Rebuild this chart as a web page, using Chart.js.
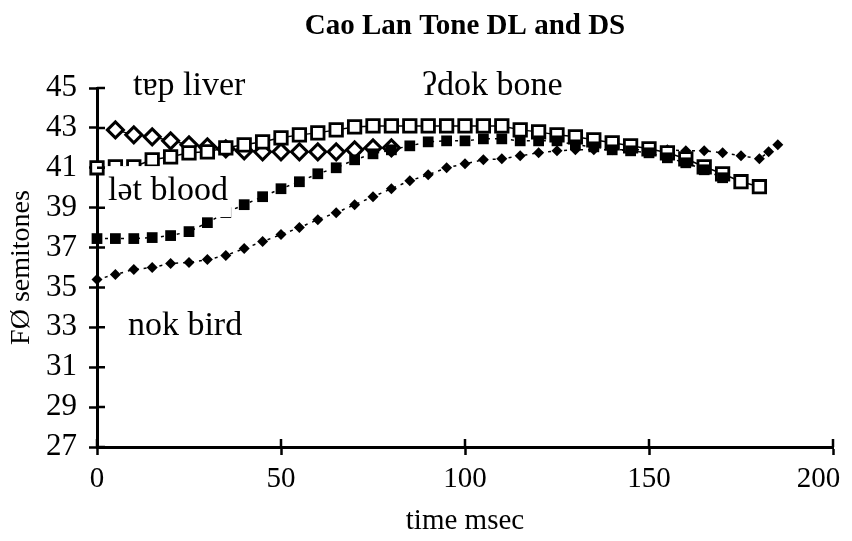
<!DOCTYPE html>
<html>
<head>
<meta charset="utf-8">
<title>Cao Lan Tone DL and DS</title>
<script src="https://cdn.jsdelivr.net/npm/chart.js@4.4.0/dist/chart.umd.min.js"></script>
<style>
  html, body { margin: 0; padding: 0; background: #fff; }
  #wrap { width: 852px; height: 541px; }
</style>
</head>
<body>
<div id="wrap"><canvas id="toneChart" width="852" height="541"></canvas></div>
<script>
// F0 contours (semitones) against time (msec)
const chartTitle = 'Cao Lan Tone DL and DS';

const liverTimes = [5, 10, 15, 20, 25, 30, 35, 40, 45, 50, 55, 60, 65, 70, 75, 80];
const liverF0 = [42.9, 42.65, 42.55, 42.35, 42.15, 42.05, 41.95, 41.85, 41.8, 41.8, 41.8, 41.8, 41.8, 41.9, 42.0, 42.0];

const boneTimes = [0, 5, 10, 15, 20, 25, 30, 35, 40, 45, 50, 55, 60, 65, 70, 75, 80, 85, 90,
  95, 100, 105, 110, 115, 120, 125, 130, 135, 140, 145, 150, 155, 160, 165, 170, 175, 180];
const boneF0 = [41.0, 41.05, 41.05, 41.4, 41.55, 41.75, 41.8, 42.0, 42.15, 42.3, 42.5, 42.65, 42.75, 42.9, 43.05, 43.1, 43.1, 43.1, 43.1,
  43.1, 43.1, 43.1, 43.1, 42.9, 42.8, 42.65, 42.55, 42.4, 42.25, 42.1, 41.95, 41.75, 41.45, 41.05, 40.7, 40.3, 40.05];

const bloodTimes = [0, 5, 10, 15, 20, 25, 30, 35, 40, 45, 50, 55, 60, 65, 70, 75, 80, 85,
  90, 95, 100, 105, 110, 115, 120, 125, 130, 135, 140, 145, 150, 155, 160, 165, 170];
const bloodF0 = [37.45, 37.45, 37.45, 37.5, 37.6, 37.8, 38.25, 38.75, 39.15, 39.55, 39.95, 40.3, 40.7, 41.0, 41.4, 41.7, 41.9, 42.1,
  42.3, 42.35, 42.35, 42.45, 42.45, 42.35, 42.35, 42.35, 42.15, 42.05, 41.9, 41.85, 41.75, 41.5, 41.25, 40.9, 40.5];

const birdTimes = [0, 5, 10, 15, 20, 25, 30, 35, 40, 45, 50, 55, 60, 65, 70, 75, 80, 85, 90,
  95, 100, 105, 110, 115, 120, 125, 130, 135, 140, 145, 150, 155, 160, 165, 170, 175, 180, 182.5, 185];
const birdF0 = [35.4, 35.65, 35.9, 36.0, 36.2, 36.25, 36.4, 36.6, 36.95, 37.3, 37.65, 38.0, 38.4, 38.75, 39.15, 39.55, 39.95, 40.35, 40.65,
  41.0, 41.2, 41.4, 41.45, 41.6, 41.75, 41.85, 41.9, 41.9, 41.9, 41.9, 41.9, 41.9, 41.85, 41.85, 41.75, 41.6, 41.45, 41.8, 42.15];

// word labels written next to the curves (anchor = left end of baseline, in data units)
const curveLabels = [
  { text: 't\u0250p liver', t: 9.8, f0: 44.65 },
  { text: '\u0294dok bone', t: 88.3, f0: 44.65 },
  { text: 'l\u0259t blood', t: 3.0, f0: 39.38 },
  { text: 'nok bird', t: 8.4, f0: 32.6 }
];

const serif = '"Liberation Serif", "Times New Roman", "DejaVu Serif", serif';

function toPoints(times, values) {
  return times.map((t, i) => ({ x: t, y: values[i] }));
}

const figureText = {
  id: 'figureText',
  afterDatasetsDraw(chart) {
    const { ctx, chartArea, scales } = chart;
    const xs = scales.x, ys = scales.y;
    ctx.save();

    ctx.font = '34px ' + serif;
    ctx.textAlign = 'left';
    ctx.textBaseline = 'alphabetic';
    curveLabels.forEach(l => {
      const px = xs.getPixelForValue(l.t);
      const py = ys.getPixelForValue(l.f0);
      const w = ctx.measureText(l.text).width;
      ctx.fillStyle = '#fff';
      ctx.fillRect(px - 3, py - 34, w + 6, 51);
      ctx.fillStyle = '#000';
      ctx.fillText(l.text, px, py);
    });

    ctx.font = 'bold 29px ' + serif;
    ctx.textAlign = 'center';
    ctx.textBaseline = 'middle';
    ctx.fillText(chartTitle, (chartArea.left + chartArea.right) / 2, 27);

    // tick marks cross the axes, so draw the inner halves too
    ctx.strokeStyle = '#000';
    ctx.lineWidth = 2.5;
    ctx.beginPath();
    ys.ticks.forEach(t => {
      const py = ys.getPixelForValue(t.value);
      ctx.moveTo(chartArea.left, py);
      ctx.lineTo(chartArea.left + 8, py);
    });
    xs.ticks.forEach(t => {
      const px = xs.getPixelForValue(t.value);
      ctx.moveTo(px, chartArea.bottom);
      ctx.lineTo(px, chartArea.bottom - 8);
    });
    ctx.stroke();
    ctx.restore();
  }
};

new Chart(document.getElementById('toneChart'), {
  type: 'line',
  data: {
    datasets: [{
      label: 'l\u0259t blood',
      data: toPoints(bloodTimes, bloodF0),
      borderColor: '#000',
      borderWidth: 1.5,
      borderDash: [3, 5],
      pointStyle: 'rect',
      pointRadius: 7.6,
      pointBackgroundColor: '#000',
      pointBorderColor: '#000',
      pointBorderWidth: 0,
      clip: false
    }, {
      label: '\u0294dok bone',
      data: toPoints(boneTimes, boneF0),
      borderColor: '#000',
      borderWidth: 1.5,
      pointStyle: 'rect',
      pointRadius: 8.8,
      pointBackgroundColor: '#fff',
      pointBorderColor: '#000',
      pointBorderWidth: 2.8,
      clip: false
    }, {
      label: 'nok bird',
      data: toPoints(birdTimes, birdF0),
      borderColor: '#000',
      borderWidth: 1.5,
      borderDash: [3, 5],
      pointStyle: 'rectRot',
      pointRadius: 5.5,
      pointBackgroundColor: '#000',
      pointBorderColor: '#000',
      pointBorderWidth: 0,
      clip: false
    }, {
      label: 't\u0250p liver',
      data: toPoints(liverTimes, liverF0),
      borderColor: '#000',
      borderWidth: 1.5,
      pointStyle: 'rectRot',
      pointRadius: 8,
      pointBackgroundColor: '#fff',
      pointBorderColor: '#000',
      pointBorderWidth: 3,
      clip: false
    }]
  },
  options: {
    responsive: false,
    animation: false,
    devicePixelRatio: 1,
    layout: { padding: { top: 88, right: 19, bottom: 0, left: 0 } },
    plugins: {
      legend: { display: false },
      tooltip: { enabled: false },
      title: { display: false }
    },
    scales: {
      x: {
        type: 'linear',
        min: 0,
        max: 200,
        afterFit: s => { s.height = 94; s.paddingRight = 0; s.paddingLeft = 0; },
        ticks: {
          stepSize: 50,
          color: '#000',
          padding: 7,
          maxRotation: 0,
          autoSkip: false,
          // the last label sits inside the frame, as in the original figure
          callback: v => v === 200 ? v + '\u2007\u2007' : String(v),
          font: { family: serif, size: 29 }
        },
        grid: {
          drawOnChartArea: false,
          tickLength: 8,
          tickColor: '#000',
          tickWidth: 2.5
        },
        border: { color: '#000', width: 3 },
        title: {
          display: true,
          text: 'time msec',
          color: '#000',
          font: { family: serif, size: 29 },
          padding: { top: 0, bottom: 2 }
        }
      },
      y: {
        min: 27,
        max: 45,
        afterFit: s => { s.width = 97; },
        ticks: {
          stepSize: 2,
          color: '#000',
          padding: 12,
          autoSkip: false,
          font: { family: serif, size: 31 }
        },
        grid: {
          drawOnChartArea: false,
          tickLength: 8,
          tickColor: '#000',
          tickWidth: 2.5
        },
        border: { color: '#000', width: 3 },
        title: {
          display: true,
          text: 'F\u00d8 semitones',
          color: '#000',
          font: { family: serif, size: 28 },
          padding: { top: 5, bottom: 0 }
        }
      }
    }
  },
  plugins: [figureText]
});
</script>
</body>
</html>
